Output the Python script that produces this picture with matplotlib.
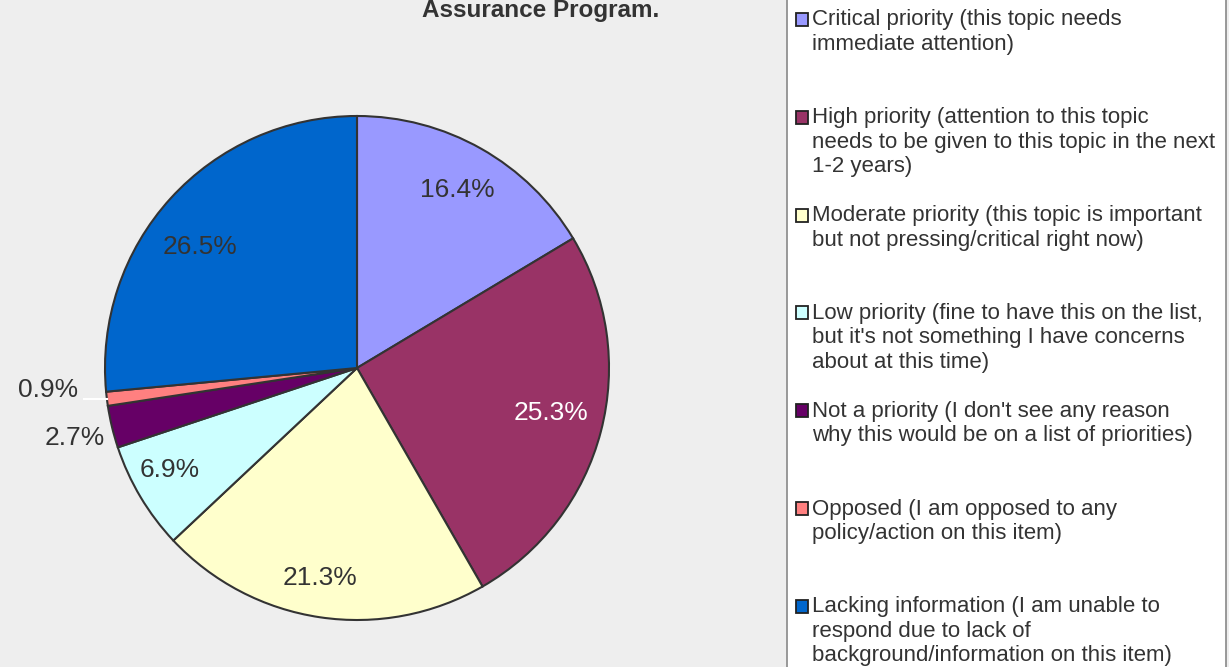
import numpy as np
import matplotlib
matplotlib.use("Agg")
import matplotlib.pyplot as plt
from matplotlib.patches import Rectangle

plt.rcParams['font.family'] = ['Liberation Sans', 'DejaVu Sans']

# Données
categories = [
    "Critical priority (this topic needs\nimmediate attention)",
    "High priority (attention to this topic\nneeds to be given to this topic in the next\n1-2 years)",
    "Moderate priority (this topic is important\nbut not pressing/critical right now)",
    "Low priority (fine to have this on the list,\nbut it's not something I have concerns\nabout at this time)",
    "Not a priority (I don't see any reason\nwhy this would be on a list of priorities)",
    "Opposed (I am opposed to any\npolicy/action on this item)",
    "Lacking information (I am unable to\nrespond due to lack of\nbackground/information on this item)",
]
shares = [16.4, 25.3, 21.3, 6.9, 2.7, 0.9, 26.5]
colors = ["#9999FF", "#993366", "#FFFFCC", "#CCFFFF", "#660066", "#FF8080", "#0066CC"]
label_colors = ["#333333", "white", "#333333", "#333333", "#333333", "#333333", "#333333"]
label_dist = [0.81, 0.79, 0.846, 0.845, 1.153, 1.22, 0.787]
label_shift = [0.0, 1.5, -1.5, -2.2, 0.5, 0.0, 4.7]   # décalage angulaire (degrés)

W, H = 1229, 667
BG = "#EEEEEE"
TXT = "#333333"

fig = plt.figure(figsize=(W / 100, H / 100), dpi=100, facecolor=BG)

# Axe du camembert (centre ~ (357, 368), rayon ~ 252 px)
cx, cy, r = 357, 368, 252
ax = fig.add_axes([(cx - r) / W, (H - cy - r) / H, 2 * r / W, 2 * r / H])
ax.set_facecolor(BG)
wedges, _ = ax.pie(shares, colors=colors, startangle=90, counterclock=False,
                   radius=1.0,
                   wedgeprops=dict(edgecolor="#333333", linewidth=1.5))
ax.set_xlim(-1, 1)
ax.set_ylim(-1, 1)
ax.axis("off")

for w, val, d, s, c in zip(wedges, shares, label_dist, label_shift, label_colors):
    mid = np.deg2rad((w.theta1 + w.theta2) / 2)
    if val < 1:
        # petite part : étiquette à gauche avec trait blanc
        ey = np.sin(mid)
        ax.plot([np.cos(mid), -1.085], [ey, ey], color="white", lw=1.5, clip_on=False)
        ax.text(-1.105, ey + 0.035, f"{val:.1f}%", ha="right", va="center",
                fontsize=19, color=c)
    else:
        a = mid + np.deg2rad(s)
        ax.text(d * np.cos(a), d * np.sin(a), f"{val:.1f}%", ha="center", va="center",
                fontsize=19, color=c)

# Calque en pixels pour la légende et le titre
ov = fig.add_axes([0, 0, 1, 1], zorder=5)
ov.set_xlim(0, W)
ov.set_ylim(H, 0)
ov.axis("off")
ov.patch.set_alpha(0)

ov.text(541, 17, "Assurance Program.", ha="center", va="baseline",
        fontsize=17.5, fontweight="bold", color=TXT)

ov.add_patch(Rectangle((787, -3), 439, H + 6, facecolor="white",
                       edgecolor="#888888", linewidth=1.2))
for i, (lab, col) in enumerate(zip(categories, colors)):
    y0 = 19.5 + 97.8 * i
    ov.add_patch(Rectangle((795.5, y0 - 6.5), 12, 13, facecolor=col,
                           edgecolor="#222222", linewidth=1.3))
    ov.text(812, y0 - 10, lab, ha="left", va="top", fontsize=16,
            color=TXT, linespacing=1.22)

fig.savefig("out.png", dpi=100, facecolor=BG)
